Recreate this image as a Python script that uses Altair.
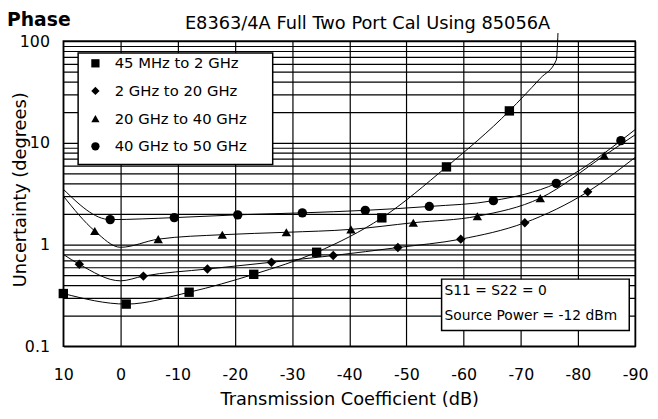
import altair as alt
import pandas as pd

# ---------------- data ----------------
SERIES = ["45 MHz to 2 GHz", "2 GHz to 20 GHz", "20 GHz to 40 GHz", "40 GHz to 50 GHz"]
SHAPES = ["square", "diamond", "triangle-up", "circle"]

# marker points (x = transmission coefficient dB, y = uncertainty degrees)
s1_mark_x = [10, -1, -12, -23.3, -34.3, -45.7, -57, -68]
s1_mark_y = [0.33, 0.26, 0.34, 0.51, 0.84, 1.83, 5.8, 20.6]
s1_line_x = [-70.5, -73.4, -76.2, -76.5]
s1_line_y = [28.8, 43, 65, 120]

s2_mark_x = [7.2, -4, -15.2, -26.4, -37.2, -48.5, -59.5, -70.7, -81.7]
s2_mark_y = [0.64, 0.49, 0.575, 0.67, 0.78, 0.935, 1.13, 1.64, 3.3]
s2_line_x = [10, 0, -90]
s2_line_y = [0.8, 0.44, 7.2]

s3_mark_x = [4.5, -6.6, -17.8, -29, -40.3, -51.2, -62.4, -73.4, -84.6]
s3_mark_y = [1.36, 1.13, 1.25, 1.32, 1.41, 1.64, 1.9, 2.86, 7.5]
s3_line_x = [10, 0, -90]
s3_line_y = [3.0, 0.94, 12.0]

s4_mark_x = [1.8, -9.4, -20.5, -31.8, -42.8, -54, -65.2, -76.2, -87.5]
s4_mark_y = [1.76, 1.84, 1.96, 2.05, 2.17, 2.37, 2.7, 4.0, 10.5]
s4_line_x = [10, -90]
s4_line_y = [3.5, 13.5]

x_ticks = [10, 0, -10, -20, -30, -40, -50, -60, -70, -80, -90]
y_grid = [k * 10.0 ** e for e in (-1, 0, 1) for k in range(1, 10)] + [100.0]

TITLE = "Phase"
SUBTITLE = "E8363/4A Full Two Port Cal Using 85056A"
NOTE1 = "S11 = S22 = 0"
NOTE2 = "Source Power = -12 dBm"
X_TITLE = "Transmission Coefficient (dB)"
Y_TITLE = "Uncertainty (degrees)"

# ---------------- tables ----------------
pts, lines = [], []
for name, mx, my, lx, ly in [
    (SERIES[0], s1_mark_x, s1_mark_y, s1_line_x, s1_line_y),
    (SERIES[1], s2_mark_x, s2_mark_y, s2_line_x, s2_line_y),
    (SERIES[2], s3_mark_x, s3_mark_y, s3_line_x, s3_line_y),
    (SERIES[3], s4_mark_x, s4_mark_y, s4_line_x, s4_line_y),
]:
    for x, y in zip(mx, my):
        pts.append({"series": name, "x": x, "y": y})
    for x, y in zip(mx + lx, my + ly):
        lines.append({"series": name, "x": x, "y": y})
pts = pd.DataFrame(pts)
lines = pd.DataFrame(lines)

FONT = "DejaVu Sans"

xscale = alt.Scale(domain=[-90, 10], reverse=True, nice=False, zero=False)
yscale = alt.Scale(type="log", domain=[0.1, 100], nice=False)

x_axis = alt.Axis(
    values=x_ticks, labelExpr="'' + datum.value", grid=True, gridColor="black",
    gridOpacity=1, gridWidth=1.2, ticks=False, domain=False, labelPadding=21,
    labelFont=FONT, labelFontSize=16, labelColor="black", labelFlush=False,
    labelOverlap=False, title=X_TITLE, titleFont=FONT, titleFontSize=18,
    titleFontWeight="normal", titleColor="black", titleY=59,
    titleBaseline="alphabetic",
)
y_axis = alt.Axis(
    values=y_grid,
    labelExpr="datum.value == 0.1 ? '0.1' : datum.value == 1 ? '1' : datum.value == 10 ? '10' : datum.value == 100 ? '100' : ''",
    grid=True, gridColor="black", gridOpacity=1, gridWidth=1.2, ticks=False,
    domain=False, labelPadding=14, labelFont=FONT, labelFontSize=16,
    labelColor="black", labelOverlap=False, labelFlush=False, title=Y_TITLE,
    titleFont=FONT, titleFontSize=18, titleFontWeight="normal",
    titleColor="black", titleX=-38, titleY=150, titleBaseline="alphabetic",
)

line_layer = alt.Chart(lines).mark_line(
    color="black", strokeWidth=1, interpolate="monotone"
).encode(
    x=alt.X("x:Q", scale=xscale, axis=x_axis),
    y=alt.Y("y:Q", scale=yscale, axis=y_axis),
    detail="series:N",
)

point_layer = alt.Chart(pts).mark_point(
    filled=True, color="black", size=90, opacity=1
).encode(
    x=alt.X("x:Q", scale=xscale),
    y=alt.Y("y:Q", scale=yscale),
    shape=alt.Shape(
        "series:N",
        scale=alt.Scale(domain=SERIES, range=SHAPES),
        legend=alt.Legend(
            title=None, orient="none", legendX=25, legendY=15, padding=0,
            labelFont=FONT, labelFontSize=15, labelColor="black",
            rowPadding=12, labelOffset=12, symbolSize=70,
            symbolFillColor="black", symbolStrokeColor="black",
            symbolStrokeWidth=0,
        ),
    ),
)

one = pd.DataFrame({"k": [0]})


def box(x1, x2, y1, y2):
    return alt.Chart(one).mark_rect(
        fill="white", stroke="black", strokeWidth=1.5
    ).encode(x=alt.value(x1), x2=alt.value(x2), y=alt.value(y1), y2=alt.value(y2))


def label(txt, x, y, size, align="left", weight="normal", baseline="alphabetic"):
    return alt.Chart(one).mark_text(
        font=FONT, fontSize=size, fontWeight=weight, align=align,
        baseline=baseline, color="black",
    ).encode(x=alt.value(x), y=alt.value(y), text=alt.value(txt))


legend_box = box(15, 212, 12, 125)
note_box = box(383, 573, 241, 293)

texts = [
    label(TITLE, -57, -15, 19, weight="bold"),
    label(SUBTITLE, 308, -12, 18, align="center"),
    label(NOTE1, 386, 253, 14, baseline="middle"),
    label(NOTE2, 386, 278, 14, baseline="middle"),
]

chart = alt.layer(line_layer, point_layer, legend_box, note_box, *texts).properties(
    width=579, height=309,
    padding={"left": 56, "top": 31, "right": 15, "bottom": 63},
    autosize=alt.AutoSizeParams(type="none"),
    background="white",
).configure_view(stroke="black", strokeWidth=1.5)

chart.save("out.html", embed_options={"renderer": "svg", "actions": False})
